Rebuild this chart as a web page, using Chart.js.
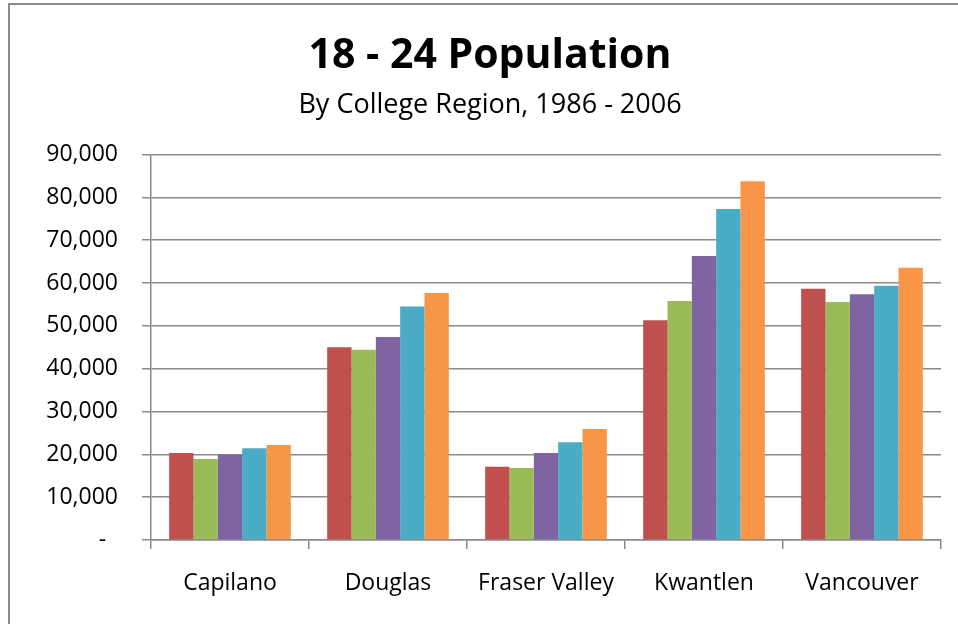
<!DOCTYPE html>
<html>
<head>
<meta charset="utf-8">
<script src="https://cdn.jsdelivr.net/npm/chart.js@4"></script>
<style>
  html, body { margin: 0; padding: 0; background: #fff; overflow: hidden; }
  #frame {
    position: absolute; left: 8px; top: 3px; width: 1000px; height: 700px;
    border: 2px solid #8a8a8a; box-sizing: border-box;
  }
  #wrap { position: absolute; left: 0; top: 0; width: 958px; height: 624px; }
</style>
</head>
<body>
<div id="frame"></div>
<div id="wrap"><canvas id="chart"></canvas></div>
<script>
// ================= DATA =================
const regions = ["Capilano", "Douglas", "Fraser Valley", "Kwantlen", "Vancouver"];
const years = ["1986", "1991", "1996", "2001", "2006"];

const pop1986 = [20300, 45000, 17100, 51300, 58700];
const pop1991 = [18900, 44400, 16800, 55800, 55600];
const pop1996 = [19900, 47400, 20300, 66300, 57400];
const pop2001 = [21400, 54500, 22800, 77300, 59400];
const pop2006 = [22200, 57700, 25900, 83800, 63600];

const yTicks = [0, 10000, 20000, 30000, 40000, 50000, 60000, 70000, 80000, 90000];

const colors = ["#C0504D", "#9BBB59", "#8064A2", "#4BACC6", "#F79646"];
const series = [pop1986, pop1991, pop1996, pop2001, pop2006];

const FONT = "'Open Sans', 'Noto Sans', sans-serif";
const gridColor = "#8a8a8a";

// ================= CREATE CHART =================
const ctx = document.getElementById("chart").getContext("2d");

new Chart(ctx, {
  type: "bar",
  data: {
    labels: regions,
    datasets: series.map((vals, i) => ({
      label: years[i],
      data: vals,
      backgroundColor: colors[i],
      borderWidth: 0,
      barPercentage: 1.0,
      categoryPercentage: 0.77
    }))
  },
  options: {
    responsive: true,
    maintainAspectRatio: false,
    animation: false,
    layout: {
      // left padding shifts the titles to the centre of the outer frame
      padding: { left: 39, right: 17, top: 0, bottom: 0 }
    },
    plugins: {
      legend: { display: false },
      tooltip: { enabled: false },
      title: {
        display: true,
        text: "18 - 24 Population",
        color: "#000",
        font: { family: FONT, size: 41, weight: "bold", lineHeight: 1.2 },
        padding: { top: 32, bottom: 0 }
      },
      subtitle: {
        display: true,
        text: "By College Region, 1986 - 2006",
        color: "#000",
        font: { family: FONT, size: 27, lineHeight: 1.2 },
        padding: { top: 8, bottom: 33 }
      }
    },
    scales: {
      x: {
        grid: {
          display: true,
          offset: true,
          drawOnChartArea: false,
          drawTicks: true,
          tickLength: 9,
          color: gridColor,
          lineWidth: 1.5
        },
        border: { display: true, color: gridColor, width: 1.5 },
        ticks: {
          color: "#000",
          font: { family: FONT, size: 23 },
          padding: 21,
          maxRotation: 0
        },
        afterFit: (scale) => { scale.height = 84; }
      },
      y: {
        min: 0,
        max: 90000,
        afterBuildTicks: (scale) => {
          scale.ticks = yTicks.map(v => ({ value: v }));
        },
        grid: {
          color: gridColor,
          lineWidth: 1.5,
          tickLength: 9
        },
        border: { display: true, color: gridColor, width: 1.5 },
        ticks: {
          color: "#000",
          font: { family: FONT, size: 23 },
          padding: 24,
          callback: (v) => v === 0 ? "-  " : v.toLocaleString("en-US")
        },
        afterFit: (scale) => { scale.width = 112; }
      }
    }
  }
});
</script>
</body>
</html>
